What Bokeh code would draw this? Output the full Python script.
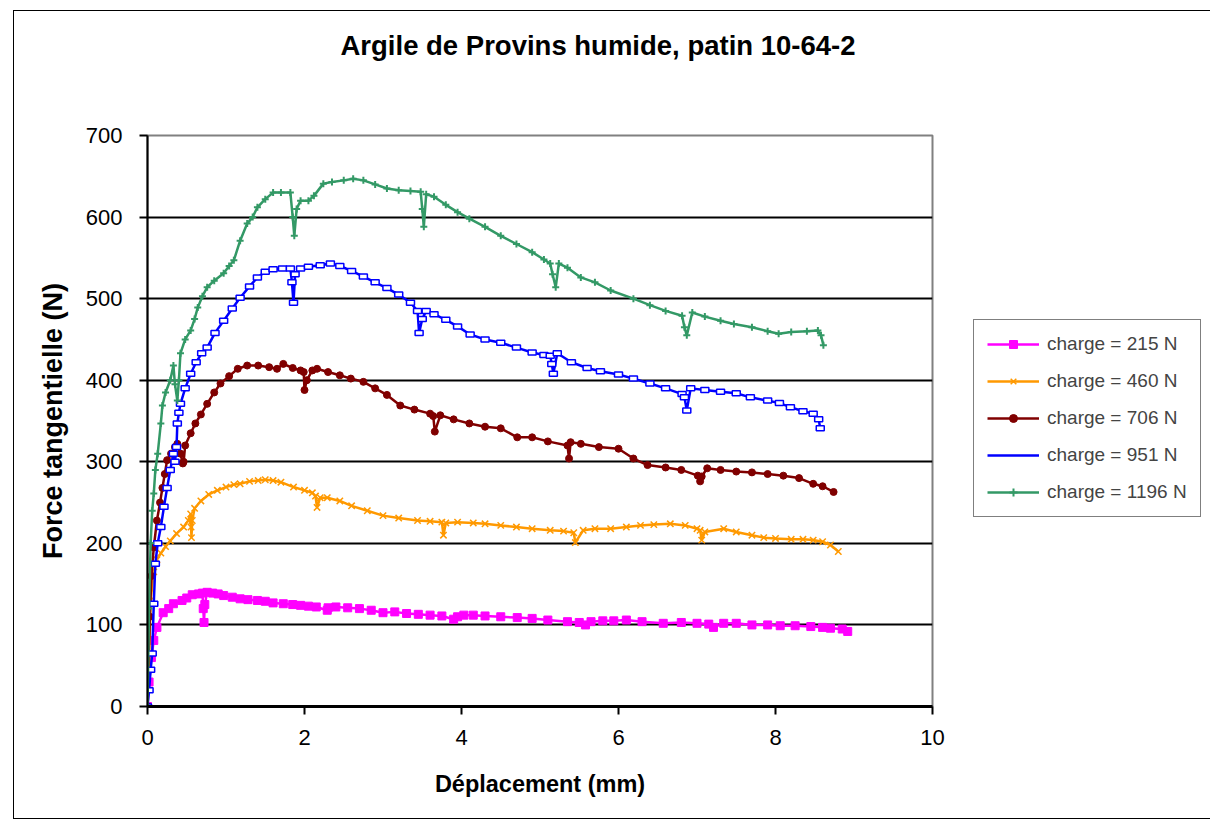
from bokeh.plotting import figure
from bokeh.models import (Range1d, FixedTicker, Legend, LegendItem, ColumnDataSource)
from bokeh.embed import file_html
from bokeh.resources import INLINE

# ---------------- data ----------------
title_text = "Argile de Provins humide, patin 10-64-2"
x_label = "Déplacement (mm)"
y_label = "Force tangentielle (N)"
series_names = ["charge = 215 N", "charge = 460 N", "charge = 706 N", "charge = 951 N", "charge = 1196 N"]
x_ticks = [0, 2, 4, 6, 8, 10]
y_ticks = [0, 100, 200, 300, 400, 500, 600, 700]

x215 = [0, 0.02, 0.05, 0.08, 0.12, 0.2, 0.27, 0.33, 0.44, 0.5, 0.57, 0.65, 0.7, 0.71, 0.72, 0.73, 0.76,
        0.83, 0.9, 0.97, 1.08, 1.18, 1.28, 1.4, 1.5, 1.6, 1.73, 1.85, 1.95, 2.05, 2.15, 2.29, 2.3, 2.4,
        2.55, 2.7, 2.85, 3.0, 3.15, 3.3, 3.45, 3.6, 3.75, 3.9, 3.95, 4.03, 4.15, 4.3, 4.5, 4.71, 4.9,
        5.1, 5.35, 5.5, 5.58, 5.65, 5.8, 5.94, 6.1, 6.3, 6.57, 6.8, 7.0, 7.15, 7.21, 7.34, 7.5, 7.7,
        7.9, 8.06, 8.25, 8.45, 8.6, 8.7, 8.85, 8.92]
y215 = [0, 30, 60, 81, 97, 115, 120, 126, 130, 133, 137, 138, 139, 120, 103, 125, 140,
        139, 138, 136, 134, 132, 131, 130, 129, 127, 126, 125, 124, 123, 122, 118, 121, 122,
        121, 120, 118, 115, 116, 114, 113, 112, 111, 107, 110, 112, 112, 111, 110, 109, 108,
        106, 104, 103, 100, 104, 105, 105, 106, 104, 102, 103, 102, 101, 97, 102, 102, 100,
        100, 99, 99, 98, 97, 96, 95, 92]

x460 = [0, 0.02, 0.04, 0.08, 0.12, 0.17, 0.23, 0.29, 0.37, 0.46, 0.52, 0.55, 0.555, 0.56, 0.57, 0.6,
        0.68, 0.78, 0.89, 1.0, 1.1, 1.18, 1.3, 1.41, 1.5, 1.6, 1.7, 1.86, 2.0, 2.1, 2.14, 2.16, 2.2,
        2.29, 2.45, 2.6, 2.8, 3.0, 3.2, 3.44, 3.6, 3.75, 3.77, 3.8, 3.95, 4.15, 4.3, 4.5, 4.7, 4.9,
        5.13, 5.3, 5.43, 5.45, 5.55, 5.7, 5.9, 6.1, 6.28, 6.45, 6.66, 6.85, 7.0, 7.04, 7.06, 7.1,
        7.34, 7.5, 7.7, 7.85, 8.0, 8.2, 8.35, 8.48, 8.6, 8.7, 8.8]
y460 = [0, 60, 130, 165, 180, 188, 196, 203, 212, 220, 228, 236, 220, 207, 228, 243,
        252, 260, 265, 269, 272, 273, 276, 277, 278, 277, 275, 269, 265, 262, 258, 244, 256,
        256, 252, 246, 240, 234, 231, 228, 227, 226, 210, 225, 226, 225, 224, 222, 220, 218,
        216, 215, 213, 201, 216, 218, 218, 220, 222, 223, 224, 222, 218, 216, 204, 214,
        218, 214, 210, 207, 206, 205, 205, 204, 202, 198, 190]

x706 = [0, 0.01, 0.03, 0.05, 0.08, 0.12, 0.16, 0.19, 0.22, 0.25, 0.3, 0.35, 0.38, 0.42, 0.45, 0.46,
        0.48, 0.55, 0.61, 0.68, 0.76, 0.85, 0.93, 1.04, 1.15, 1.27, 1.41, 1.55, 1.65, 1.73, 1.85,
        1.95, 1.99, 2.0, 2.03, 2.1, 2.16, 2.3, 2.45, 2.59, 2.75, 2.9, 3.05, 3.22, 3.4, 3.6, 3.64,
        3.66, 3.73, 3.9, 4.1, 4.3, 4.5, 4.71, 4.9, 5.1, 5.35, 5.37, 5.39, 5.52, 5.75, 6.0, 6.19,
        6.37, 6.6, 6.8, 7.01, 7.04, 7.06, 7.13, 7.3, 7.5, 7.7, 7.9, 8.1, 8.3, 8.48, 8.6, 8.74]
y706 = [0, 44, 110, 160, 195, 228, 250, 268, 285, 302, 310, 318, 322, 310, 298, 300,
        320, 335, 347, 358, 371, 385, 396, 405, 414, 418, 418, 416, 414, 420, 415,
        412, 410, 388, 400, 412, 414, 410, 406, 402, 398, 390, 382, 369, 364, 359, 356,
        337, 357, 352, 347, 343, 341, 330, 330, 325, 320, 304, 324, 322, 318, 316, 304,
        296, 293, 290, 283, 276, 282, 292, 290, 288, 287, 285, 283, 280, 273, 270, 263]

x951 = [0, 0.02, 0.04, 0.06, 0.08, 0.1, 0.13, 0.17, 0.21, 0.25, 0.29, 0.33, 0.35, 0.37, 0.38, 0.4,
        0.42, 0.48, 0.55, 0.62, 0.69, 0.76, 0.86, 0.97, 1.08, 1.18, 1.3, 1.4, 1.5, 1.6, 1.72, 1.82,
        1.84, 1.86, 1.88, 1.95, 2.05, 2.2, 2.33, 2.45, 2.6, 2.75, 2.9, 3.05, 3.2, 3.35, 3.44, 3.46,
        3.5, 3.55, 3.65, 3.8, 3.95, 4.11, 4.3, 4.5, 4.7, 4.9, 5.05, 5.13, 5.15, 5.17, 5.22, 5.4,
        5.6, 5.77, 6.0, 6.19, 6.4, 6.6, 6.81, 6.84, 6.87, 6.92, 7.1, 7.3, 7.5, 7.68, 7.9, 8.05,
        8.19, 8.35, 8.48, 8.55, 8.57]
y951 = [0, 20, 45, 65, 126, 175, 200, 220, 245, 268, 290, 310, 300, 318, 347, 360,
        371, 390, 408, 422, 433, 440, 458, 473, 488, 501, 515, 526, 533, 536, 537, 537,
        520, 495, 530, 537, 539, 541, 543, 540, 534, 527, 520, 513, 505, 495, 485, 458,
        475, 485, 481, 474, 466, 456, 450, 446, 440, 434, 431, 430, 420, 408, 433, 422,
        415, 411, 407, 402, 396, 390, 383, 379, 363, 390, 388, 386, 384, 379, 375, 372,
        367, 362, 359, 352, 341]

x1196 = [0, 0.02, 0.04, 0.06, 0.08, 0.1, 0.13, 0.17, 0.19, 0.23, 0.29, 0.33, 0.35, 0.38, 0.4, 0.42,
         0.48, 0.55, 0.6, 0.64, 0.7, 0.76, 0.85, 0.97, 1.04, 1.1, 1.18, 1.27, 1.34, 1.4, 1.5, 1.6,
         1.7, 1.82, 1.85, 1.87, 1.9, 1.95, 2.05, 2.12, 2.24, 2.35, 2.5, 2.62, 2.75, 2.9, 3.05, 3.2,
         3.35, 3.48, 3.5, 3.52, 3.55, 3.65, 3.8, 3.95, 4.1, 4.3, 4.5, 4.7, 4.9, 5.05, 5.13, 5.16,
         5.2, 5.24, 5.35, 5.52, 5.7, 5.9, 6.19, 6.4, 6.6, 6.81, 6.84, 6.87, 6.94, 7.1, 7.3, 7.47,
         7.7, 7.9, 8.04, 8.2, 8.4, 8.54, 8.58, 8.61]
y1196 = [0, 120, 200, 240, 261, 290, 310, 347, 369, 385, 400, 418, 395, 375, 400, 433,
         450, 461, 475, 489, 503, 514, 522, 531, 540, 547, 571, 592, 600, 612, 622, 630,
         630, 630, 600, 577, 610, 620, 620, 626, 641, 643, 645, 647, 645, 640, 635, 633,
         632, 631, 610, 588, 628, 625, 615, 606, 598, 588, 577, 567, 557, 548, 543, 530,
         514, 543, 538, 526, 520, 510, 500, 492, 485, 479, 465, 455, 483, 478, 473, 469,
         465, 460, 457, 459, 460, 461, 455, 443]

FONT = "Liberation Sans"

p = figure(frame_width=785, frame_height=571, output_backend="svg", toolbar_location=None,
           x_range=Range1d(0, 10), y_range=Range1d(0, 700),
           min_border_left=133, min_border_right=277, min_border_top=124, min_border_bottom=112)
p.margin = (10, 0, 0, 13)
p.styles = {"border": "1px solid black"}
p.background_fill_color = "white"
p.border_fill_color = "white"
p.outline_line_color = "#808080"
p.outline_line_width = 2

# title: two blank trailing lines lift the visible line towards the top of the chart
p.title.text = title_text + "\n\u00a0\n\u00a0"
p.title.text_font = FONT
p.title.text_font_size = "27.5px"
p.title.text_font_style = "bold"
p.title.text_color = "black"
p.title.align = "left"
p.title.offset = 193
p.title.standoff = 26

# axes
p.xaxis.ticker = FixedTicker(ticks=x_ticks)
p.yaxis.ticker = FixedTicker(ticks=y_ticks)
for ax in (p.xaxis[0], p.yaxis[0]):
    ax.axis_line_color = "black"
    ax.major_tick_line_color = "black"
    ax.major_tick_line_width = 2
    ax.major_tick_in = 0
    ax.major_tick_out = 8
    ax.minor_tick_line_color = None
    ax.major_label_text_font = FONT
    ax.major_label_text_font_size = "22px"
    ax.major_label_text_color = "black"
    ax.axis_label_text_font = FONT
    ax.axis_label_text_font_style = "bold"
    ax.axis_label_text_color = "black"
p.xaxis.axis_label_text_font_size = "23.5px"
p.yaxis.axis_label_text_font_size = "27px"
p.xaxis.axis_line_width = 3
p.yaxis.axis_line_width = 2
p.xaxis.axis_label = x_label
p.yaxis.axis_label = y_label
p.xaxis.major_label_standoff = 15
p.yaxis.major_label_standoff = 17
p.xaxis.axis_label_standoff = 23
p.yaxis.axis_label_standoff = 15

p.xgrid.grid_line_color = None
p.ygrid.grid_line_color = "black"
p.ygrid.grid_line_width = 2
p.ygrid.ticker = FixedTicker(ticks=[100, 200, 300, 400, 500, 600])

# series
s1 = ColumnDataSource(dict(x=x215, y=y215))
s2 = ColumnDataSource(dict(x=x460, y=y460))
s3 = ColumnDataSource(dict(x=x706, y=y706))
s4 = ColumnDataSource(dict(x=x951, y=y951))
s5 = ColumnDataSource(dict(x=x1196, y=y1196))

c1, c2, c3, c4, c5 = "#FF00FF", "#FF9900", "#800000", "#0000FF", "#339966"

l1 = p.line("x", "y", source=s1, color=c1, line_width=2.5)
m1 = p.scatter("x", "y", source=s1, marker="square", size=8, color=c1)

l2 = p.line("x", "y", source=s2, color=c2, line_width=2.5)
m2 = p.scatter("x", "y", source=s2, marker="x", size=9, line_color=c2, line_width=1.5)

l3 = p.line("x", "y", source=s3, color=c3, line_width=2.5)
m3 = p.scatter("x", "y", source=s3, marker="circle", size=7, color=c3)

l4 = p.line("x", "y", source=s4, color=c4, line_width=2.5)
m4 = p.rect("x", "y", source=s4, width=8, height=5, width_units="screen", height_units="screen",
            fill_color="white", line_color=c4, line_width=1.5)

l5 = p.line("x", "y", source=s5, color=c5, line_width=2.5)
m5 = p.scatter("x", "y", source=s5, marker="cross", size=7, line_color=c5, line_width=2)

legend = Legend(items=[
    LegendItem(label=series_names[0], renderers=[l1, m1]),
    LegendItem(label=series_names[1], renderers=[l2, m2]),
    LegendItem(label=series_names[2], renderers=[l3, m3]),
    LegendItem(label=series_names[3], renderers=[l4]),
    LegendItem(label=series_names[4], renderers=[l5, m5]),
])
legend.location = (41, 189)
legend.border_line_color = "black"
legend.border_line_width = 1
legend.background_fill_alpha = 1
legend.label_text_font = FONT
legend.label_text_font_size = "19px"
legend.glyph_width = 52
legend.glyph_height = 20
legend.label_height = 20
legend.spacing = 15
legend.padding = 13
legend.margin = 0
legend.label_standoff = 8
p.add_layout(legend, "right")

open("out.html", "w").write(file_html(p, INLINE))
